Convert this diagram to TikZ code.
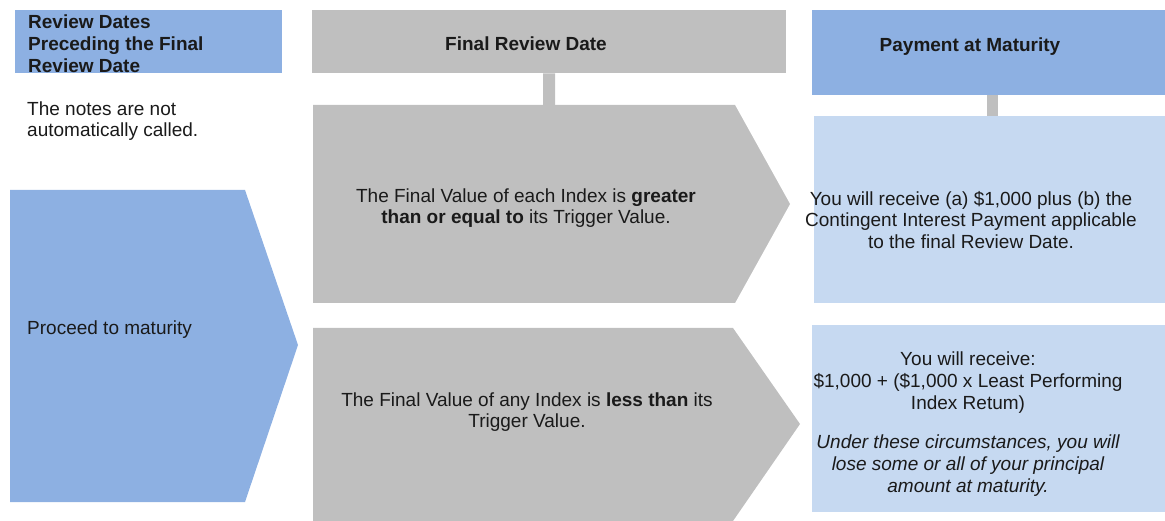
\documentclass[tikz,border=0pt]{standalone}
\usepackage{fontspec}
\setmainfont{Liberation Sans}
\definecolor{bdark}{HTML}{8DB0E2}
\definecolor{blight}{HTML}{C6D9F1}
\definecolor{gfill}{HTML}{BFBFBF}
\definecolor{textc}{HTML}{1A1A1A}
\begin{document}
\begin{tikzpicture}[x=1pt,y=-1pt,
  txt/.style={font=\fontsize{19}{21.8}\selectfont, text=textc, inner sep=0pt},
  btxt/.style={txt, font=\fontsize{19}{21.8}\selectfont\bfseries},
  rbox/.style={anchor=north west, inner sep=0pt, draw=none},
  stem/.style={draw=gfill, line cap=butt}]
\useasboundingbox (0,0) rectangle (1165,521);

% header boxes
\node[rbox, fill=bdark, minimum width=267pt, minimum height=63pt] (rd) at (15,10) {};
\node[rbox, fill=gfill, minimum width=474pt, minimum height=63pt] (frd) at (312,10) {};
\node[rbox, fill=bdark, minimum width=353pt, minimum height=85pt] (pay) at (812,10) {};

% result boxes
\node[rbox, fill=blight, minimum width=351pt, minimum height=187pt] (res1) at (814,116) {};
\node[rbox, fill=blight, minimum width=353pt, minimum height=187pt] (res2) at (812,325) {};

% arrows
\fill[bdark] (10,190) -- (245,190) -- (298,345) -- (245,502) -- (10,502) -- cycle;
\fill[gfill] (313,105) -- (735,105) -- (790,204) -- (735,303) -- (313,303) -- cycle;
\fill[gfill] (313,328) -- (733,328) -- (800,424) -- (733,521) -- (313,521) -- cycle;
\coordinate (a1top) at (549,105);

% stems
\draw[stem, line width=12pt] (frd.south) -- (a1top);
\draw[stem, line width=11pt] ([xshift=4pt]pay.south) -- ([xshift=4pt]pay.south |- res1.north);

% texts
\node[btxt, anchor=west, align=left] (trd) at (28,44)
  {Review Dates\\Preceding the Final\\Review Date};
\node[txt, anchor=west, align=left] (tnotes) at (27,121)
  {The notes are not\\automatically called.};
\node[txt, anchor=west] (tproc) at (27,330) {Proceed to maturity};
\node[btxt] (tfrd) at (526,44) {Final Review Date};
\node[btxt] (tpay) at (970,47) {Payment at Maturity};
\node[txt, align=center] (ta1) at (526,208)
  {The Final Value of each Index is \textbf{greater}\\\textbf{than or equal to} its Trigger Value.};
\node[txt, align=center] (ta2) at (527,412)
  {The Final Value of any Index is \textbf{less than} its\\Trigger Value.};
\node[txt, align=center] (tr1) at (971,220)
  {You will receive (a) \$1,000 plus (b) the\\Contingent Interest Payment applicable\\to the final Review Date.};
\node[txt, align=center] (tr2) at (968,424)
  {You will receive:\\\$1,000 + (\$1,000 x Least Performing\\Index Retum)\\[18pt]
   \itshape Under these circumstances, you will\\\itshape lose some or all of your principal\\\itshape amount at maturity.};
\end{tikzpicture}
\end{document}
